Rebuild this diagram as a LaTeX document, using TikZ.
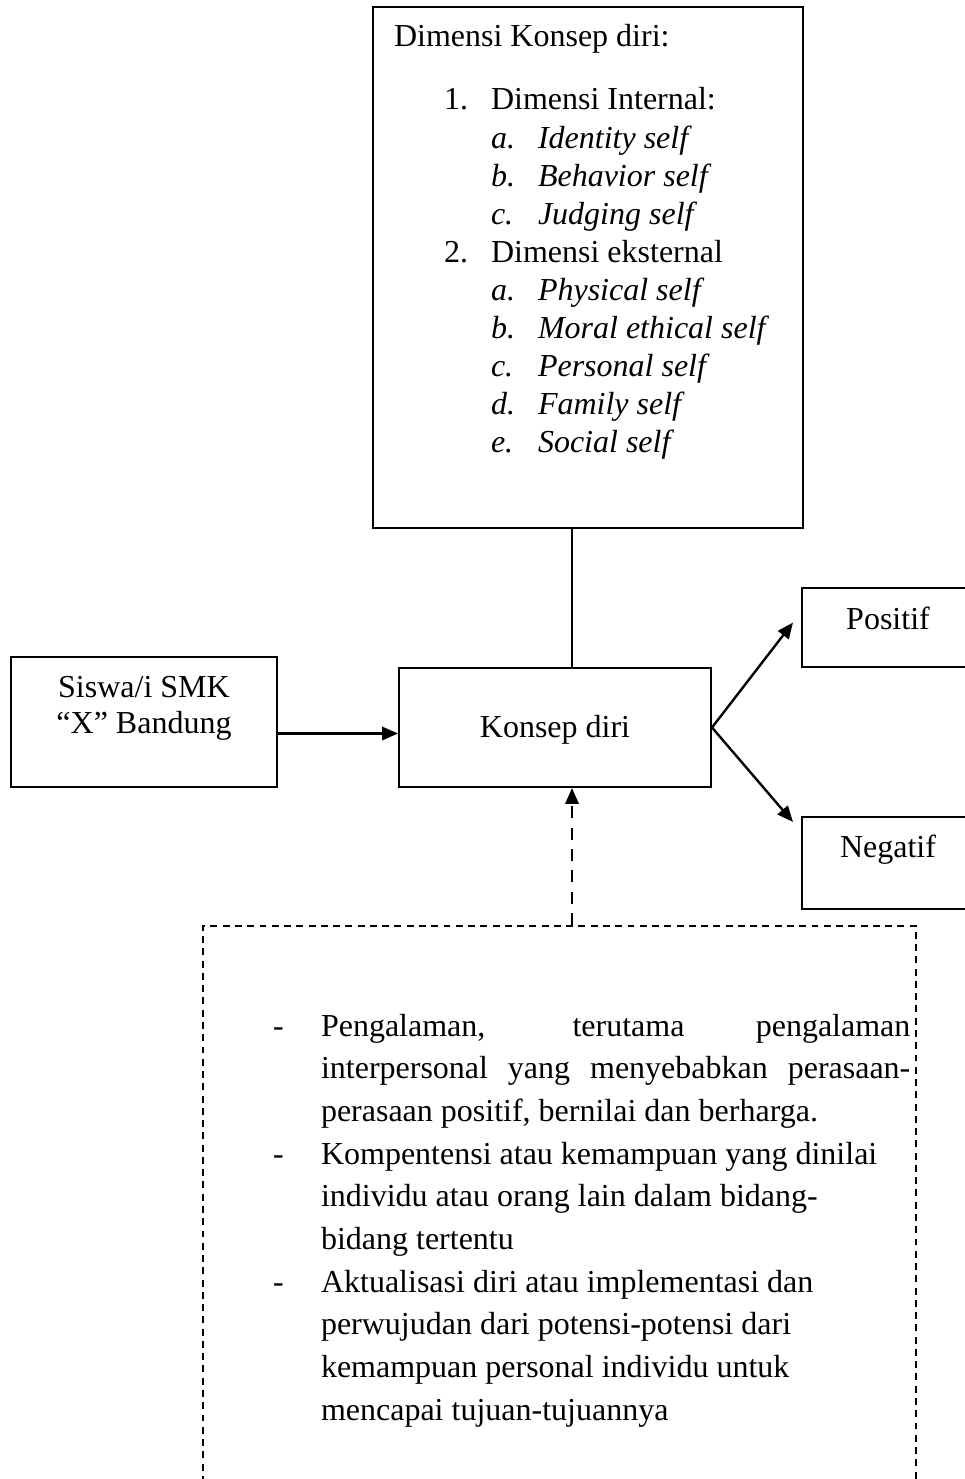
\documentclass[tikz,border=0pt]{standalone}
\usepackage{fontspec}
\setmainfont{Liberation Serif}
\usetikzlibrary{calc,arrows.meta}

\begin{document}
\begin{tikzpicture}[x=0.375pt, y=-0.375pt, line width=0.75pt,
    box/.style={draw, rectangle, inner sep=0pt},
    txt/.style={anchor=base west, inner sep=0pt, font=\fontsize{12pt}{14pt}\selectfont},
    itxt/.style={txt, font=\fontsize{12pt}{14pt}\selectfont\itshape},
    ctxt/.style={txt, anchor=base},
    arr/.style={-{Triangle[length=6pt,width=5pt]}, line width=0.9pt},
    dasharr/.style={arr, dash pattern=on 4.5pt off 3.5pt}]

    \clip (0,0) rectangle (965,1479);

    % boxes
    \node[box, minimum width=161.25pt, minimum height=195.4pt] (dim) at (588,267.5) {};
    \node[box, minimum width=99.75pt, minimum height=48.75pt] (siswa) at (144,722) {};
    \node[box, minimum width=117pt, minimum height=44.6pt] (konsep) at (555,727.5) {};
    \node[box, minimum width=65.25pt, minimum height=29.6pt] (pos) at (889,627.5) {};
    \node[box, minimum width=65.25pt, minimum height=34.5pt] (neg) at (889,863) {};
    \node[box, dash pattern=on 2.6pt off 2pt, minimum width=267.4pt, minimum height=225pt] (note) at (559.5,1226) {};

    % dimensi konsep diri
    \node[txt] (dimtitle) at (393,47) {Dimensi Konsep diri:};
    \node[txt] (num1) at (443,110) {1.};
    \node[txt] (internal) at (490,110) {Dimensi Internal:};
    \foreach \y/\l/\t [count=\i] in {148.1/a./Identity self, 186.2/b./Behavior self, 224.3/c./Judging self} {
        \node[itxt] (inl\i) at (490,\y) {\l};
        \node[itxt] (in\i) at (537,\y) {\t};
    }
    \node[txt] (num2) at (443,262.4) {2.};
    \node[txt] (eksternal) at (490,262.4) {Dimensi eksternal};
    \foreach \y/\l/\t [count=\i] in {300.5/a./Physical self, 338.6/b./Moral ethical self, 376.7/c./Personal self, 414.8/d./Family self, 452.9/e./Social self} {
        \node[itxt] (exl\i) at (490,\y) {\l};
        \node[itxt] (ex\i) at (537,\y) {\t};
    }

    % box labels
    \node[ctxt] (siswa1) at (144,697) {Siswa/i SMK};
    \node[ctxt] (siswa2) at (144,733) {“X” Bandung};
    \node[ctxt] (konseptxt) at (555,737) {Konsep diri};
    \node[ctxt] (postxt) at (888,629) {Positif};
    \node[ctxt] (negtxt) at (888,857) {Negatif};

    % faktor
    \foreach \y [count=\i] in {1036,1164.1,1292.2}
        \node[txt] (dash\i) at (272,\y) {-};
    \node[txt] (f1) at (320,1036) {\makebox[221pt][s]{Pengalaman, terutama pengalaman}};
    \node[txt] (f2) at (320,1078.7) {\makebox[221pt][s]{interpersonal yang menyebabkan perasaan-}};
    \foreach \y/\t [count=\i from 3] in {1121.4/{perasaan positif, bernilai dan berharga.},
        1164.1/Kompentensi atau kemampuan yang dinilai, 1206.8/individu atau orang lain dalam bidang-,
        1249.5/bidang tertentu, 1292.2/Aktualisasi diri atau implementasi dan,
        1334.9/perwujudan dari potensi-potensi dari, 1377.6/kemampuan personal individu untuk,
        1420.3/mencapai tujuan-tujuannya}
        \node[txt] (f\i) at (320,\y) {\t};

    % connectors
    \coordinate (j) at (572,0);
    \coordinate (mid) at ($(konsep.west)+(0,6)$);
    \draw (dim.south -| j) -- (konsep.north -| j);
    \draw[arr] (siswa.east |- mid) -- (mid);
    \draw[arr] (konsep.east) -- ($(pos.west)+(-8,-5)$);
    \draw[arr] (konsep.east) -- ($(neg.north west)+(-8,6)$);
    \draw[dasharr] (note.north -| j) -- (konsep.south -| j);

\end{tikzpicture}
\end{document}
